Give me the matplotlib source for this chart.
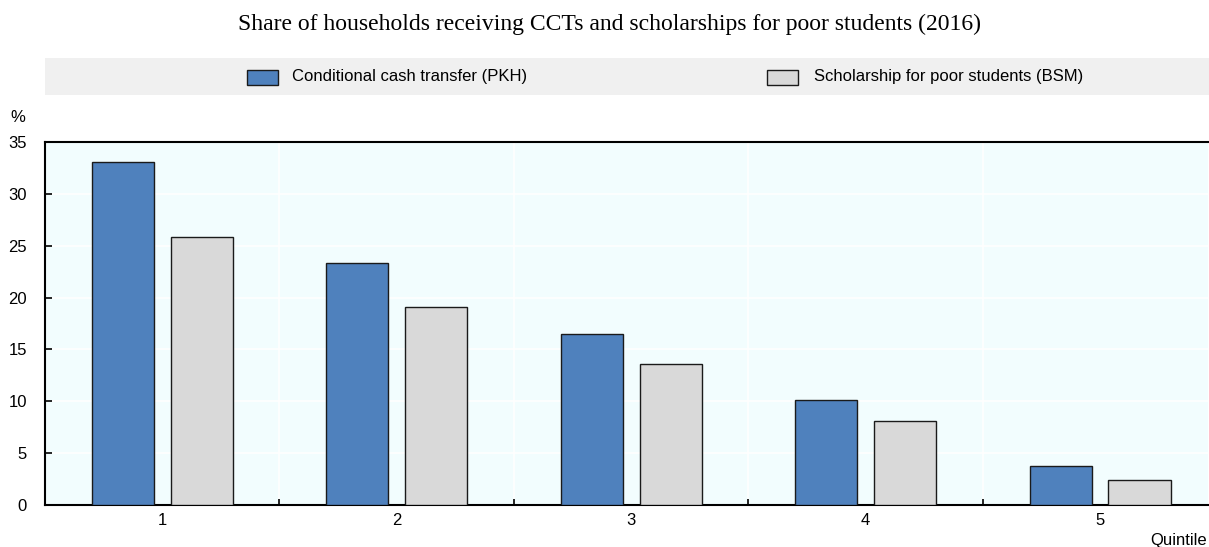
import numpy as np
import matplotlib.pyplot as plt
from matplotlib import font_manager
from matplotlib.patches import Rectangle

quintiles = ['1', '2', '3', '4', '5']
pkh = [33.1, 23.3, 16.5, 10.1, 3.8]
bsm = [25.8, 19.1, 13.6, 8.1, 2.4]
labels = ['Conditional cash transfer (PKH)', 'Scholarship for poor students (BSM)']
colors = ['#4F81BD', '#D9D9D9']

# Arial Narrow look-alike if present, otherwise plain Liberation Sans
try:
    font_manager.findfont('Liberation Sans Narrow', fallback_to_default=False)
    sans = ['Liberation Sans Narrow', 'DejaVu Sans']
    fs = 13.5
except ValueError:
    sans = ['Liberation Sans', 'DejaVu Sans']
    fs = 12
plt.rcParams['font.family'] = sans

W, H = 1209, 547
fig = plt.figure(figsize=(W / 100, H / 100), dpi=100)

# legend band
fig.patches.append(Rectangle((45 / W, 1 - 95 / H), (W - 45) / W, 37 / H,
                             transform=fig.transFigure, facecolor='#F0F0F0',
                             edgecolor='none', zorder=0))
for px, tx, lab, c in zip([247, 767], [292, 814], labels, colors):
    fig.patches.append(Rectangle((px / W, 1 - 85 / H), 31 / W, 15 / H,
                                 transform=fig.transFigure, facecolor=c,
                                 edgecolor='#1a1a1a', linewidth=1, zorder=1))
    fig.text(tx / W, 1 - 77 / H, lab, ha='left', va='center', fontsize=fs)

ax = fig.add_axes([45 / W, 1 - 505 / H, (1208 - 45) / W, (505 - 142) / H])
ax.set_facecolor('#F2FDFE')

x = np.arange(len(quintiles))
w = 0.265
off = 0.168
ax.bar(x - off, pkh, w, color=colors[0], edgecolor='#1a1a1a', linewidth=1, zorder=3)
ax.bar(x + off, bsm, w, color=colors[1], edgecolor='#1a1a1a', linewidth=1, zorder=3)

ax.set_xlim(-0.5, 4.46)
ax.set_ylim(0, 35)
ax.set_yticks(np.arange(0, 36, 5))
ax.set_xticks(x)
ax.set_xticklabels(quintiles)
ax.set_xticks(np.arange(0.5, 4.5, 1), minor=True)

ax.grid(axis='y', color='white', linewidth=1.2, zorder=1)
ax.grid(axis='x', which='minor', color='white', linewidth=1.2, zorder=1)
ax.set_axisbelow(True)

ax.tick_params(axis='x', which='major', length=0, labelsize=fs, pad=6)
ax.tick_params(axis='x', which='minor', direction='in', length=4, width=1.2)
ax.tick_params(axis='y', direction='in', length=5, width=1.2, labelsize=fs, pad=13)

for s in ['left', 'bottom', 'top']:
    ax.spines[s].set_linewidth(1.5)
    ax.spines[s].set_color('black')
ax.spines['right'].set_visible(False)

fig.text(609 / W, 1 - 24 / H, 'Share of households receiving CCTs and scholarships for poor students (2016)',
         ha='center', va='center', fontsize=17, family=['Liberation Serif', 'DejaVu Serif'])
fig.text(18 / W, 1 - 117 / H, '%', ha='center', va='center', fontsize=fs)
fig.text(1207 / W, 1 - 540 / H, 'Quintile', ha='right', va='center', fontsize=fs)

fig.savefig('out.png', dpi=100)
